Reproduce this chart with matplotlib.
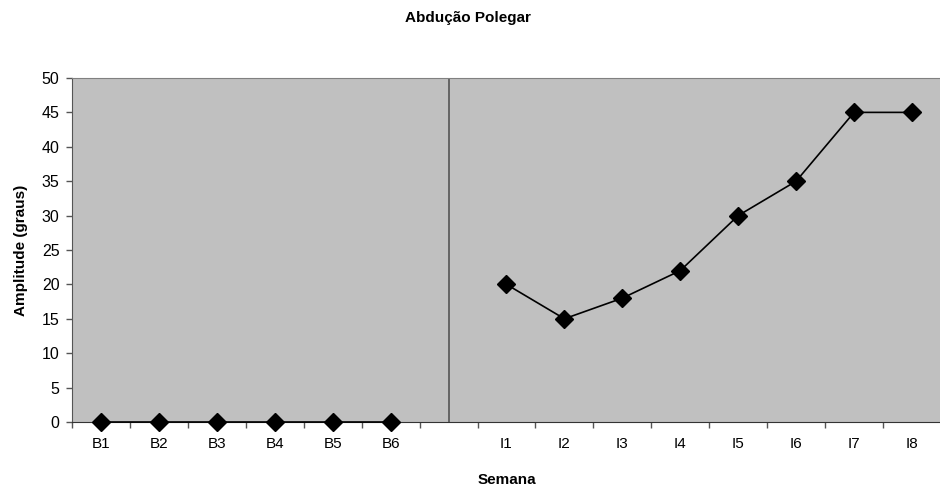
import numpy as np
import matplotlib.pyplot as plt

plt.rcParams['font.family'] = ['Liberation Sans', 'DejaVu Sans']

# categorias do eixo x (posição 6 fica em branco, separa as fases)
categorias = ['B1', 'B2', 'B3', 'B4', 'B5', 'B6', '', 'I1', 'I2', 'I3', 'I4', 'I5', 'I6', 'I7', 'I8']
fase_b = [0, 0, 0, 0, 0, 0]
fase_i = [20, 15, 18, 22, 30, 35, 45, 45]

pos = np.arange(len(categorias))
pos_b = pos[:len(fase_b)]
pos_i = pos[len(fase_b) + 1:]
pos_sep = len(fase_b)

fig = plt.figure(figsize=(9.4, 4.92), dpi=100)
ax = fig.add_axes([0.0766, 0.1423, 0.9244, 0.6992])
ax.set_facecolor('#c0c0c0')

ax.plot(pos_b, fase_b, color='black', lw=1.2, marker='D', ms=9, clip_on=False, zorder=3)
ax.plot(pos_i, fase_i, color='black', lw=1.2, marker='D', ms=9, clip_on=False, zorder=3)

# linha de separação entre fases
ax.axvline(pos_sep, color='#555555', lw=1.2, zorder=2)

ax.set_xlim(-0.5, len(categorias) - 0.5)
ax.set_ylim(0, 50)
ax.set_yticks(np.arange(0, 51, 5))
ax.set_xticks(pos)
ax.set_xticklabels(categorias)
ax.set_xticks(np.arange(-0.5, len(categorias), 1), minor=True)
ax.tick_params(axis='x', which='major', length=0, pad=11, labelsize=11)
ax.tick_params(axis='x', which='minor', length=4, width=1, color='#555555')
ax.tick_params(axis='y', length=4, width=1, color='#555555', labelsize=11.5, pad=5)

ax.spines['right'].set_visible(False)
ax.spines['top'].set_color('#808080')
ax.spines['left'].set_color('#555555')
ax.spines['bottom'].set_color('#333333')

fig.text(0.498, 1 - 18 / 492, 'Abdução Polegar', ha='center', va='center',
         fontsize=11, fontweight='bold')
ax.set_xlabel('Semana', fontsize=11, fontweight='bold', labelpad=16)
ax.set_ylabel('Amplitude (graus)', fontsize=11, fontweight='bold', labelpad=10)

fig.savefig('out.png', dpi=100)
